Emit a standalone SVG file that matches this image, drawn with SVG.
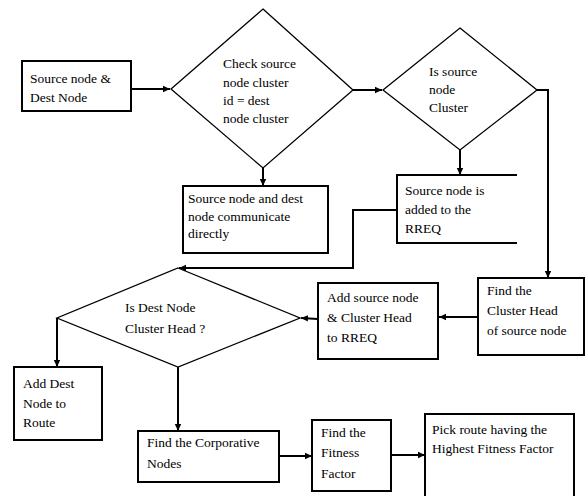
<svg xmlns="http://www.w3.org/2000/svg" width="585" height="496" viewBox="0 0 585 496">
<style>
.box{fill:#fff;stroke:#000;stroke-width:2}
.dia{fill:#fff;stroke:#000;stroke-width:1.3}
.t{font-family:'Liberation Serif', 'DejaVu Serif', 'Times New Roman', serif;font-size:13.5px;fill:#000}
.c{fill:none;stroke:#000;stroke-width:2}
</style>
<defs>
<marker id="ah" markerWidth="8" markerHeight="8" refX="7" refY="4" orient="auto" markerUnits="userSpaceOnUse">
<path d="M0,0.8 L7,4 L0,7.2 Z" fill="#000"/>
</marker>
</defs>
<rect width="585" height="496" fill="#fff"/>
<g id="connectors">
<path class="c" d="M131,89 H170" marker-end="url(#ah)"/>
<path class="c" d="M263,168 V186" marker-end="url(#ah)"/>
<path class="c" d="M353,90 H382" marker-end="url(#ah)"/>
<path class="c" d="M460,150 V175" marker-end="url(#ah)"/>
<path class="c" d="M537,90 H548 V278" marker-end="url(#ah)"/>
<path class="c" d="M397,210 H353 V268 H179" marker-end="url(#ah)"/>
<path class="c" d="M478,317 H439" marker-end="url(#ah)"/>
<path class="c" d="M318,319 L301,318" marker-end="url(#ah)"/>
<path class="c" d="M57,318 V367" marker-end="url(#ah)"/>
<path class="c" d="M178,367 V431" stroke-width="1.5" marker-end="url(#ah)"/>
<path class="c" d="M279,456 H312" marker-end="url(#ah)"/>
<path class="c" d="M391,455 H425" marker-end="url(#ah)"/>
</g>
<g id="start">
<rect class="box" x="22" y="61" width="109" height="50"/>
<text class="t" font-family="Liberation Serif, serif" x="30" y="83">Source node &amp;</text>
<text class="t" font-family="Liberation Serif, serif" x="30" y="102">Dest Node</text>
</g>
<g id="check-cluster">
<polygon class="dia" points="263,9 353,90 263,168 171,89"/>
<text class="t" x="223" y="68">Check source</text>
<text class="t" x="223" y="87">node cluster</text>
<text class="t" x="223" y="105">id = dest</text>
<text class="t" x="223" y="123">node cluster</text>
</g>
<g id="direct">
<rect class="box" x="183" y="186" width="145" height="67"/>
<text class="t" x="188" y="203">Source node and dest</text>
<text class="t" x="188" y="221">node communicate</text>
<text class="t" x="188" y="238">directly</text>
</g>
<g id="is-cluster">
<polygon class="dia" points="460,28 537,90 460,150 383,90"/>
<text class="t" x="429" y="76">Is source</text>
<text class="t" x="429" y="94">node</text>
<text class="t" x="429" y="112">Cluster</text>
</g>
<g id="added-rreq">
<path class="c" d="M517,175 H397 V243 H517"/>
<text class="t" x="405" y="195">Source node is</text>
<text class="t" x="405" y="214">added to the</text>
<text class="t" x="405" y="233">RREQ</text>
</g>
<g id="find-ch">
<rect class="box" x="478" y="278" width="106" height="77"/>
<text class="t" x="487" y="295">Find the</text>
<text class="t" x="487" y="315">Cluster Head</text>
<text class="t" x="487" y="335">of source node</text>
</g>
<g id="add-source">
<rect class="box" x="318" y="283" width="120" height="76"/>
<text class="t" x="327" y="302">Add source node</text>
<text class="t" x="327" y="322">&amp; Cluster Head</text>
<text class="t" x="327" y="342">to RREQ</text>
</g>
<g id="is-dest-ch">
<polygon class="dia" points="178,268 300,318 178,367 57,318"/>
<text class="t" x="125" y="312">Is Dest Node</text>
<text class="t" x="125" y="333">Cluster Head ?</text>
</g>
<g id="add-dest">
<rect class="box" x="14" y="367" width="88" height="73"/>
<text class="t" x="23" y="388">Add Dest</text>
<text class="t" x="23" y="408">Node to</text>
<text class="t" x="23" y="427">Route</text>
</g>
<g id="corporative">
<rect class="box" x="138" y="431" width="141" height="51"/>
<text class="t" x="147" y="447">Find the Corporative</text>
<text class="t" x="147" y="468">Nodes</text>
</g>
<g id="fitness">
<rect class="box" x="312" y="420" width="79" height="71"/>
<text class="t" x="321" y="437">Find the</text>
<text class="t" x="321" y="457">Fitness</text>
<text class="t" x="321" y="478">Factor</text>
</g>
<g id="pick">
<rect class="box" x="425" y="414" width="149" height="90"/>
<text class="t" x="432" y="434">Pick route  having the</text>
<text class="t" x="432" y="453">Highest Fitness Factor</text>
</g>
</svg>
